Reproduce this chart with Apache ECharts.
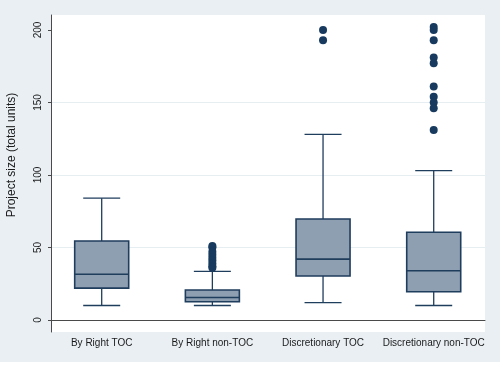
<!DOCTYPE html>
<html>
<head>
<meta charset="utf-8">
<script src="https://cdn.jsdelivr.net/npm/echarts@6/dist/echarts.min.js"></script>
<style>
html,body{margin:0;padding:0;background:#ffffff;}
#c{width:500px;height:365px;}
</style>
</head>
<body>
<div id="c"></div>
<script>
// ---- data ----
var categories = ['By Right TOC', 'By Right non-TOC', 'Discretionary TOC', 'Discretionary non-TOC'];
// [lower whisker, Q1, median, Q3, upper whisker]
var boxByRightTOC = [10, 22, 31.5, 54.5, 84];
var boxByRightNonTOC = [10, 12.6, 15.5, 20.7, 33.5];
var boxDiscTOC = [12, 30.3, 42, 69.7, 128];
var boxDiscNonTOC = [10, 19.5, 34, 60.5, 103];
var outByRightTOC = [];
var outByRightNonTOC = [51, 50, 47, 45, 43, 41, 39, 37, 36];
var outDiscTOC = [200, 193];
var outDiscNonTOC = [202, 200, 193, 181, 177, 161, 154, 150, 146, 131];
var yTicks = [0, 50, 100, 150, 200];
var yTitle = 'Project size (total units)';

// ---- build ----
var boxes = [boxByRightTOC, boxByRightNonTOC, boxDiscTOC, boxDiscNonTOC];
var outs = [outByRightTOC, outByRightNonTOC, outDiscTOC, outDiscNonTOC];
var boxData = boxes.map(function (b, i) { return [i + 1].concat(b); });
var outData = [];
outs.forEach(function (arr, i) { arr.forEach(function (v) { outData.push([i + 1, v]); }); });

var BOX_W = 54, CAP_W = 37;
var EDGE = '#1f3d5c', FILL = '#8e9fb1';

function renderBox(params, api) {
  var x = api.value(0);
  var pLo = api.coord([x, api.value(1)]);
  var pQ1 = api.coord([x, api.value(2)]);
  var pMd = api.coord([x, api.value(3)]);
  var pQ3 = api.coord([x, api.value(4)]);
  var pHi = api.coord([x, api.value(5)]);
  var cx = pMd[0];
  var ls = { stroke: EDGE, lineWidth: 1.3, fill: null };
  return {
    type: 'group',
    children: [
      { type: 'line', shape: { x1: cx, y1: pHi[1], x2: cx, y2: pQ3[1] }, style: ls },
      { type: 'line', shape: { x1: cx, y1: pQ1[1], x2: cx, y2: pLo[1] }, style: ls },
      { type: 'line', shape: { x1: cx - CAP_W / 2, y1: pHi[1], x2: cx + CAP_W / 2, y2: pHi[1] }, style: ls },
      { type: 'line', shape: { x1: cx - CAP_W / 2, y1: pLo[1], x2: cx + CAP_W / 2, y2: pLo[1] }, style: ls },
      { type: 'rect', shape: { x: cx - BOX_W / 2, y: pQ3[1], width: BOX_W, height: pQ1[1] - pQ3[1] },
        style: { fill: FILL, stroke: EDGE, lineWidth: 1.6 } },
      { type: 'line', shape: { x1: cx - BOX_W / 2, y1: pMd[1], x2: cx + BOX_W / 2, y2: pMd[1] },
        style: { stroke: EDGE, lineWidth: 1.6 } }
    ]
  };
}

var chart = echarts.init(document.getElementById('c'), null, { renderer: 'canvas' });
var FONT = 'Liberation Sans, Arial, sans-serif';
chart.setOption({
  backgroundColor: '#ffffff',
  animation: false,
  graphic: [
    { type: 'rect', left: 0, top: 0, shape: { width: 500, height: 362 }, style: { fill: '#e9eff3' }, z: -10, silent: true },
    { type: 'rect', left: 51, top: 15, shape: { width: 434, height: 317 }, style: { fill: '#ffffff' }, z: -9, silent: true },
    { type: 'text', x: 12, y: 155, rotation: Math.PI / 2,
      style: { text: yTitle, font: '12px ' + FONT, fill: '#1a1a1a', textAlign: 'center', textVerticalAlign: 'middle' } }
  ],
  grid: { left: 51, right: 15, top: 15, bottom: 33, containLabel: false },
  xAxis: {
    type: 'value',
    min: 0.5419, max: 4.4634,
    axisLine: { show: true, lineStyle: { color: '#4a4a4a', width: 1 } },
    axisTick: { show: false },
    splitLine: { show: false },
    axisLabel: {
      customValues: [1, 2, 3, 4],
      formatter: function (v) { return categories[Math.round(v) - 1] || ''; },
      fontFamily: FONT, fontSize: 10, color: '#1a1a1a', margin: 6
    }
  },
  yAxis: {
    type: 'value',
    min: -8.28, max: 210.34,
    minInterval: 50, maxInterval: 50,
    axisLine: { show: true, lineStyle: { color: '#4a4a4a', width: 1 } },
    axisTick: { show: true, customValues: yTicks, length: 3, lineStyle: { color: '#4a4a4a' } },
    axisLabel: {
      customValues: yTicks, rotate: 90, margin: 8,
      fontFamily: FONT, fontSize: 10, color: '#1a1a1a'
    },
    splitLine: { show: true, showMinLine: false, showMaxLine: false, lineStyle: { color: '#e6eef2', width: 1 } }
  },
  series: [
    {
      type: 'custom',
      renderItem: renderBox,
      data: boxData,
      encode: { x: 0, y: [1, 2, 3, 4, 5] },
      z: 2
    },
    {
      type: 'scatter',
      data: outData,
      symbol: 'circle',
      symbolSize: 8,
      itemStyle: { color: '#173a5e', opacity: 1 },
      z: 3
    }
  ]
});
</script>
</body>
</html>
